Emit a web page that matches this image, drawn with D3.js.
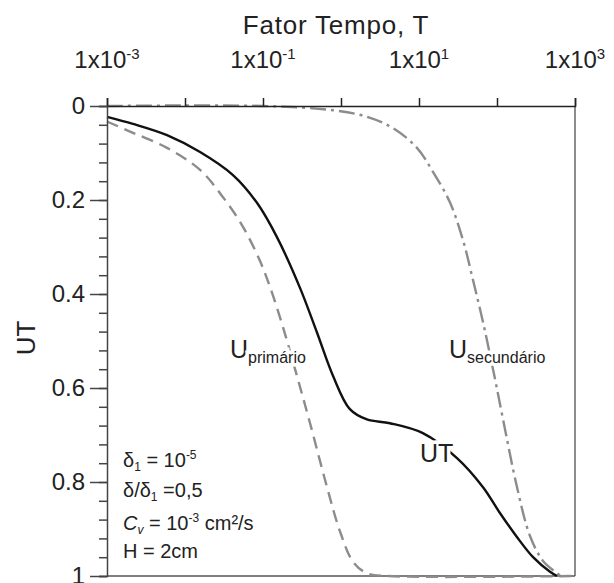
<!DOCTYPE html>
<html>
<head>
<meta charset="utf-8">
<script src="https://cdn.jsdelivr.net/npm/d3@7"></script>
<style>
  body { margin: 0; background: #fff; }
  svg text { font-family: "Liberation Sans", Arial, Helvetica, sans-serif; fill: #222; }
</style>
</head>
<body>
<div id="chart"></div>
<script>
// valores (T, U)
const utT = [0.001, 0.00215, 0.00588, 0.0156, 0.0412, 0.0837, 0.151, 0.298, 0.492, 0.789, 1.30, 2.15, 4.25, 11.2, 30.7, 66.2, 109, 180, 290, 478, 588];
const utU = [0.023, 0.038, 0.062, 0.098, 0.147, 0.206, 0.279, 0.387, 0.482, 0.574, 0.645, 0.667, 0.675, 0.696, 0.749, 0.811, 0.866, 0.917, 0.960, 0.991, 1.0];

const primT = [0.001, 0.00215, 0.00588, 0.0156, 0.0307, 0.0554, 0.0916, 0.123, 0.180, 0.273, 0.401, 0.662, 0.970, 1.43, 2.15, 4.0, 1000];
const primU = [0.033, 0.057, 0.089, 0.136, 0.194, 0.257, 0.330, 0.385, 0.470, 0.575, 0.675, 0.811, 0.905, 0.970, 0.994, 1.0, 1.0];

const secT = [0.001, 0.1, 0.789, 2.15, 4.64, 9.42, 15.1, 24.9, 36.6, 49.2, 66.2, 88.9, 119, 180, 265, 389, 588, 650];
const secU = [0.0, 0.0, 0.009, 0.023, 0.047, 0.089, 0.140, 0.205, 0.285, 0.370, 0.460, 0.560, 0.665, 0.810, 0.915, 0.968, 0.994, 1.0];

const xTicks = [1e-3, 1e-2, 1e-1, 1e0, 1e1, 1e2, 1e3];
const xLabelExp = [-3, -1, 1, 3];
const yMajor = [0, 0.2, 0.4, 0.6, 0.8, 1];
const yMinor = d3.range(0, 1.0001, 0.04);

const width = 614, height = 583;
const margin = { top: 106, right: 39, bottom: 7, left: 107 };

const svg = d3.select("#chart").append("svg")
    .attr("width", width)
    .attr("height", height);

const x = d3.scaleLog()
    .domain([1e-3, 1e3])
    .range([margin.left, width - margin.right]);

const y = d3.scaleLinear()
    .domain([0, 1])
    .range([margin.top, height - margin.bottom]);

// moldura (direita e baixo)
svg.append("line")
    .attr("x1", x(1e3)).attr("x2", x(1e3))
    .attr("y1", y(0)).attr("y2", y(1))
    .attr("stroke", "#666").attr("stroke-width", 1.5);
svg.append("line")
    .attr("x1", x(1e-3)).attr("x2", x(1e3))
    .attr("y1", y(1)).attr("y2", y(1))
    .attr("stroke", "#555").attr("stroke-width", 1.5);

// curvas
function drawCurve(ts, us, color, dash) {
    const pts = ts.map((t, i) => [t, us[i]]);
    svg.append("path")
        .datum(pts)
        .attr("fill", "none")
        .attr("stroke", color)
        .attr("stroke-width", 2.4)
        .attr("stroke-dasharray", dash)
        .attr("d", d3.line()
            .x(d => x(d[0]))
            .y(d => y(d[1]))
            .curve(d3.curveCatmullRom.alpha(0.5)));
}
drawCurve(secT, secU, "#8c8c8c", "16,5,3,5");
drawCurve(primT, primU, "#8c8c8c", "12,7");
drawCurve(utT, utU, "#111", null);

// eixo de cima
const topAxis = svg.append("g")
    .attr("transform", `translate(0,${y(0)})`)
    .call(d3.axisTop(x).tickValues(xTicks).tickSize(8).tickFormat(""));
topAxis.select(".domain").attr("stroke", "#222").attr("stroke-width", 1.5);
topAxis.selectAll(".tick line").attr("stroke", "#222").attr("stroke-width", 1.5);

xLabelExp.forEach(e => {
    const t = svg.append("text")
        .attr("x", x(Math.pow(10, e)))
        .attr("y", 68)
        .attr("text-anchor", "middle")
        .attr("font-size", 24);
    t.append("tspan").text("1x10");
    t.append("tspan").attr("font-size", 15).attr("dy", -9).text(e < 0 ? "-" + (-e) : e);
});

svg.append("text")
    .attr("x", 336)
    .attr("y", 34)
    .attr("text-anchor", "middle")
    .attr("font-size", 26)
    .attr("letter-spacing", 0.8)
    .text("Fator Tempo, T");

// eixo da esquerda
const leftAxis = svg.append("g")
    .attr("transform", `translate(${x(1e-3)},0)`);
leftAxis.call(d3.axisLeft(y).tickValues(yMinor).tickSize(8).tickFormat(""));
leftAxis.select(".domain").attr("stroke", "#444").attr("stroke-width", 1.5);
leftAxis.selectAll(".tick line").attr("stroke", "#444").attr("stroke-width", 1.5);

const leftMajor = svg.append("g")
    .attr("transform", `translate(${x(1e-3)},0)`)
    .call(d3.axisLeft(y).tickValues(yMajor).tickSize(17).tickPadding(5)
        .tickFormat(d => d === 0 || d === 1 ? d3.format("d")(d) : d3.format(".1f")(d)));
leftMajor.select(".domain").remove();
leftMajor.selectAll(".tick line").attr("stroke", "#444").attr("stroke-width", 1.5);
leftMajor.selectAll(".tick text")
    .attr("font-size", 24)
    .attr("font-family", "Liberation Sans, Arial, sans-serif")
    .attr("fill", "#222");

svg.append("text")
    .attr("transform", "translate(35,338) rotate(-90)")
    .attr("text-anchor", "middle")
    .attr("font-size", 26)
    .text("UT");

// rótulos das curvas (com halo branco para abrir a linha)
function curveLabel(px, py, main, sub, mainSize) {
    const t = svg.append("text")
        .attr("x", px).attr("y", py)
        .attr("font-size", mainSize)
        .attr("stroke", "#fff").attr("stroke-width", 7)
        .attr("paint-order", "stroke");
    t.append("tspan").text(main);
    if (sub) t.append("tspan").attr("font-size", 16).attr("dy", 5).text(sub);
}
curveLabel(230, 358, "U", "primário", 25);
curveLabel(449, 358, "U", "secundário", 25);
curveLabel(420, 462, "UT", null, 25);

// parâmetros
const notes = svg.append("g").attr("font-size", 20);
const n1 = notes.append("text").attr("x", 123).attr("y", 467);
n1.append("tspan").text("δ");
n1.append("tspan").attr("font-size", 12).attr("dy", 4).text("1");
n1.append("tspan").attr("dy", -4).text(" = 10");
n1.append("tspan").attr("font-size", 12).attr("dy", -8).text("-5");

const n2 = notes.append("text").attr("x", 123).attr("y", 497);
n2.append("tspan").text("δ/δ");
n2.append("tspan").attr("font-size", 12).attr("dy", 4).text("1");
n2.append("tspan").attr("dy", -4).text(" =0,5");

const n3 = notes.append("text").attr("x", 123).attr("y", 530);
n3.append("tspan").attr("font-style", "italic").text("C");
n3.append("tspan").attr("font-style", "italic").attr("font-size", 12).attr("dy", 4).text("v");
n3.append("tspan").attr("dy", -4).text(" = 10");
n3.append("tspan").attr("font-size", 12).attr("dy", -8).text("-3");
n3.append("tspan").attr("dy", 8).text(" cm²/s");

notes.append("text").attr("x", 123).attr("y", 558).text("H = 2cm");
</script>
</body>
</html>
